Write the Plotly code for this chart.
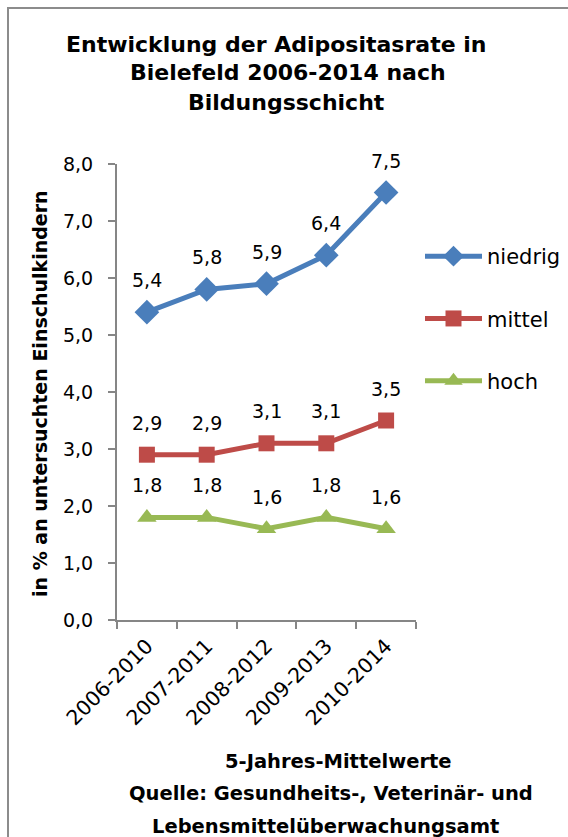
import plotly.graph_objects as go

# Five-year rolling periods and obesity rates (%) by education level
periods = ["2006-2010", "2007-2011", "2008-2012", "2009-2013", "2010-2014"]
niedrig = [5.4, 5.8, 5.9, 6.4, 7.5]
mittel = [2.9, 2.9, 3.1, 3.1, 3.5]
hoch = [1.8, 1.8, 1.6, 1.8, 1.6]
y_ticks = [0, 1, 2, 3, 4, 5, 6, 7, 8]

W, H = 568, 837
FONT = "DejaVu Sans"

def px_x(v):
    return v / W

def px_y(v):
    return 1 - v / H

series = [
    ("niedrig", niedrig, "#4A7EBB", "diamond", 19),
    ("mittel", mittel, "#BE4B48", "square", 16),
    ("hoch", hoch, "#98B954", "triangle-up", 17),
]

fig = go.Figure()
annotations = []
for name, vals, color, symbol, msize in series:
    fig.add_trace(go.Scatter(
        x=periods, y=vals, name=name, mode="lines+markers",
        line=dict(color=color, width=5),
        marker=dict(symbol=symbol, size=msize, color=color),
        legendgroup=name,
    ))
    for p, v in zip(periods, vals):
        annotations.append(dict(
            x=p, y=v, xref="x", yref="y", text=f"{v:.1f}".replace(".", ","),
            showarrow=False, yshift=32,
            font=dict(family=FONT, size=19, color="black"),
        ))

# Title, axis titles and source note
title_lines = ["Entwicklung der Adipositasrate in", "Bielefeld 2006-2014 nach", "Bildungsschicht"]
title_x = [276, 288, 286]
title_y = [44, 73, 102]
for t, xx, yy in zip(title_lines, title_x, title_y):
    annotations.append(dict(
        x=px_x(xx), y=px_y(yy), xref="paper", yref="paper", text=t,
        showarrow=False, xanchor="center", yanchor="middle",
        font=dict(family=FONT, size=22, color="black", weight="bold"),
    ))

bottom_lines = ["5-Jahres-Mittelwerte", "Quelle: Gesundheits-, Veterinär- und", "Lebensmittelüberwachungsamt"]
bottom_x = [338, 331, 325]
bottom_y = [761, 793, 826]
for t, xx, yy in zip(bottom_lines, bottom_x, bottom_y):
    annotations.append(dict(
        x=px_x(xx), y=px_y(yy), xref="paper", yref="paper", text=t,
        showarrow=False, xanchor="center", yanchor="middle",
        font=dict(family=FONT, size=19.5, color="black", weight="bold"),
    ))

annotations.append(dict(
    x=px_x(40), y=px_y(394), xref="paper", yref="paper",
    text="in % an untersuchten Einschulkindern", textangle=-90,
    showarrow=False, xanchor="center", yanchor="middle",
    font=dict(family=FONT, size=19, color="black", weight="bold"),
))

axis_color = "#868686"
fig.update_layout(
    width=W, height=H,
    margin=dict(l=0, r=0, t=0, b=0, autoexpand=False),
    paper_bgcolor="white", plot_bgcolor="white",
    font=dict(family=FONT, size=19, color="black"),
    showlegend=True,
    legend=dict(
        x=px_x(420), y=px_y(236), xanchor="left", yanchor="top",
        traceorder="grouped", tracegroupgap=32, itemwidth=57,
        font=dict(family=FONT, size=21, color="black"),
        bgcolor="rgba(0,0,0,0)",
    ),
    xaxis=dict(
        domain=[px_x(117), px_x(416)], range=[-0.5, 4.5],
        type="category", showline=True, linecolor=axis_color, linewidth=2,
        ticks="outside", tickson="boundaries", ticklen=7, tickcolor=axis_color, tickwidth=2,
        tickangle=-45, showgrid=False, zeroline=False, ticklabelstandoff=4,
        tickfont=dict(family=FONT, size=20.5, color="black"),
    ),
    yaxis=dict(
        domain=[px_y(620), px_y(164)], range=[0, 8],
        tickvals=y_ticks, ticktext=[f"{v:.1f}".replace(".", ",") for v in y_ticks],
        showline=True, linecolor=axis_color, linewidth=2,
        ticks="outside", ticklen=7, tickcolor=axis_color, tickwidth=2,
        showgrid=False, zeroline=False, ticklabelstandoff=11,
        tickfont=dict(family=FONT, size=19, color="black"),
    ),
    annotations=annotations,
    shapes=[dict(
        type="rect", xref="paper", yref="paper",
        x0=px_x(8), x1=1.05, y0=-0.05, y1=px_y(8),
        line=dict(color="#8c8c8c", width=2), fillcolor="rgba(0,0,0,0)",
    )],
)

fig.write_html("out.html")
